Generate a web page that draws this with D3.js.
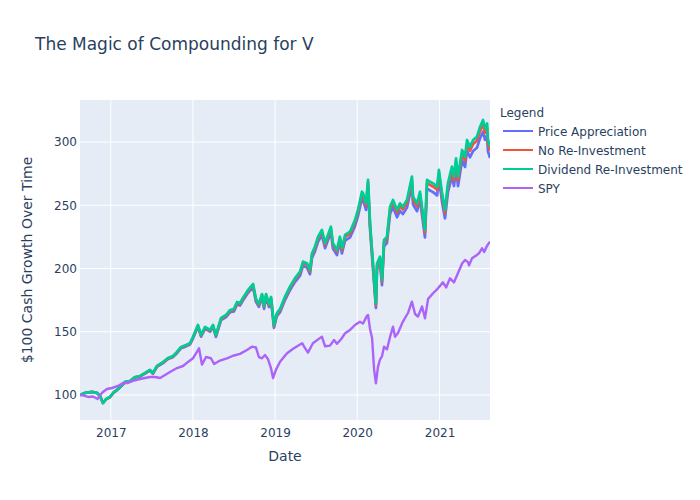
<!DOCTYPE html>
<html><head><meta charset="utf-8">
<script src="https://cdn.jsdelivr.net/npm/d3@7"></script>
<style>body{margin:0;background:#fff} text{font-family:"DejaVu Sans",verdana,arial,sans-serif}</style>
</head><body><svg id="c" width="700" height="500"></svg>
<script>
const vDates = ["2016-08-17","2016-09-08","2016-10-09","2016-11-01","2016-11-14","2016-11-27","2016-12-11","2016-12-28",
"2017-01-15","2017-01-28","2017-02-15","2017-03-05","2017-03-27","2017-04-18","2017-05-11","2017-06-02","2017-06-24","2017-07-07","2017-07-25","2017-08-21","2017-09-12","2017-10-04","2017-10-22","2017-11-09","2017-12-01","2017-12-19",
"2018-01-01","2018-01-23","2018-02-06","2018-02-24","2018-03-18","2018-03-31","2018-04-13","2018-05-06","2018-05-28","2018-06-15","2018-07-02","2018-07-16","2018-07-29","2018-08-11","2018-09-03","2018-09-25","2018-10-08","2018-10-21","2018-11-04","2018-11-13","2018-11-22","2018-12-05","2018-12-14","2018-12-27",
"2019-01-09","2019-01-23","2019-02-14","2019-03-08","2019-03-30","2019-04-22","2019-05-05","2019-05-23","2019-06-05","2019-06-14","2019-06-27","2019-07-11","2019-07-28","2019-08-11","2019-08-24","2019-09-06","2019-09-15","2019-10-03","2019-10-16","2019-10-25","2019-11-08","2019-11-30","2019-12-22",
"2020-01-04","2020-01-22","2020-01-27","2020-02-09","2020-02-18","2020-02-27","2020-03-11","2020-03-24","2020-03-29","2020-04-11","2020-04-20","2020-04-29","2020-05-12","2020-05-26","2020-06-08","2020-06-26","2020-07-09","2020-07-22","2020-08-09","2020-08-31","2020-09-05","2020-09-23","2020-10-06","2020-10-28","2020-11-06","2020-11-19","2020-12-03","2020-12-21","2020-12-29",
"2021-01-12","2021-01-25","2021-02-07","2021-02-25","2021-03-06","2021-03-15","2021-03-24","2021-04-11","2021-04-24","2021-05-03","2021-05-16","2021-05-30","2021-06-16","2021-06-30","2021-07-13","2021-07-22","2021-07-31","2021-08-04","2021-08-13"];

const dividendReInvestment = [100,101.6,102.4,101.6,99.2,93.7,96.8,98.4,
102.4,104,107,110.3,111,114.2,115,117.4,119.8,117.4,123,126,129.2,130.8,134,138,139.5,141,
145.8,155.3,147.4,153.8,151.4,155.3,147.4,160.9,163.2,167.2,168,173.5,172.7,176.7,183,187.7,175.9,171.9,179.8,170.4,179.8,171.9,177.5,155.3,
164.8,168,177.7,185.6,192.2,197.5,205.4,204.1,198.8,212,217.2,225.1,230.4,219.9,226.5,233,219.9,214.6,225.1,216,226.5,229.1,238.3,
246.2,260.7,259.4,251.5,270,235.7,204,172.5,204,209.3,191,222.5,225,248.9,254.2,246.2,251.5,248.9,254.2,272.6,256.8,251.5,260.7,230.4,270,268.6,267.3,264.7,277.9,
259.4,246.2,267.3,280.5,272.6,287.1,272.6,293.7,288.4,301.6,296.3,301.6,304.2,312.1,317.4,310.8,314.7,301.6,296.3];

const noReInvestment = [100,101.6,102.4,101.6,99.2,93.7,96.7,98.3,
102.3,103.9,106.9,110.2,110.9,114.0,114.8,117.2,119.6,117.2,122.7,125.7,128.9,130.5,133.6,137.6,139.1,140.6,
145.4,154.8,146.9,153.3,150.9,154.7,146.9,160.3,162.6,166.5,167.3,172.8,171.9,175.9,182.2,186.8,175.1,171.1,178.9,169.6,178.9,171.0,176.6,154.5,
163.9,167.1,176.7,184.6,191.1,196.3,204.2,202.9,197.6,210.7,215.8,223.7,228.9,218.5,225.0,231.4,218.4,213.1,223.5,214.5,224.9,227.4,236.5,
244.3,258.7,257.4,249.6,267.9,233.9,202.4,171.1,202.4,207.6,189.5,220.7,223.1,246.8,252.1,244.1,249.3,246.7,252.0,270.2,254.5,249.2,258.3,228.3,267.5,266.1,264.8,262.2,275.2,
256.9,243.8,264.7,277.7,269.9,284.2,269.8,290.7,285.4,298.5,293.2,298.4,301.0,308.8,314.0,307.4,311.3,298.3,293.1];

const priceAppreciation = [100,101.6,102.3,101.5,99.1,93.6,96.6,98.2,
102.1,103.7,106.7,109.9,110.6,113.7,114.5,116.8,119.2,116.8,122.3,125.2,128.4,129.9,133.0,137.0,138.4,139.9,
144.6,154.0,146.1,152.4,150.0,153.8,145.9,159.2,161.5,165.4,166.1,171.5,170.7,174.6,180.8,185.3,173.6,169.6,177.4,168.1,177.4,169.5,175.0,153.1,
162.4,165.5,175.0,182.8,189.2,194.3,202.0,200.7,195.5,208.4,213.5,221.2,226.3,216.0,222.4,228.7,215.8,210.6,220.8,211.9,222.1,224.6,233.5,
241.2,255.3,254.0,246.3,264.3,230.7,199.6,168.8,199.6,204.7,186.8,217.6,220.0,243.3,248.4,240.5,245.6,243.0,248.1,266.0,250.6,245.3,254.2,224.6,263.2,261.7,260.4,257.8,270.6,
252.5,239.6,260.1,272.9,265.2,279.2,265.1,285.5,280.3,293.1,287.9,292.9,295.4,303.0,308.1,301.6,305.3,292.6,287.4];

const spyDates = ["2016-08-17","2016-09-04","2016-09-22","2016-10-14","2016-11-03","2016-11-14","2016-11-27","2016-12-15",
"2017-01-06","2017-02-02","2017-02-24","2017-03-18","2017-04-09","2017-05-11","2017-06-02","2017-06-24","2017-07-16","2017-08-08","2017-08-30","2017-09-21","2017-10-22","2017-11-18","2017-12-10",
"2018-01-01","2018-01-28","2018-02-10","2018-02-28","2018-03-22","2018-04-05","2018-05-01","2018-06-01","2018-06-28","2018-07-29","2018-08-29","2018-09-20","2018-10-08","2018-10-21","2018-11-04","2018-11-17","2018-11-30","2018-12-14","2018-12-23",
"2019-01-05","2019-01-23","2019-02-23","2019-03-22","2019-05-01","2019-05-14","2019-05-27","2019-06-18","2019-07-28","2019-08-11","2019-09-02","2019-09-20","2019-10-03","2019-10-21","2019-11-08","2019-11-30","2019-12-22",
"2020-01-13","2020-01-27","2020-02-13","2020-02-18","2020-02-27","2020-03-07","2020-03-16","2020-03-24","2020-04-02","2020-04-11","2020-04-20","2020-04-29","2020-05-12","2020-05-26","2020-06-08","2020-06-17","2020-06-30","2020-07-22","2020-08-14","2020-08-31","2020-09-14","2020-09-27","2020-10-15","2020-10-28","2020-11-11","2020-12-03","2020-12-25",
"2021-01-16","2021-01-30","2021-02-16","2021-03-06","2021-03-20","2021-04-11","2021-04-24","2021-05-07","2021-05-12","2021-05-25","2021-06-16","2021-06-25","2021-07-09","2021-07-18","2021-07-31","2021-08-13"];

const spy = [100,99.5,98.4,98.8,96.8,99.8,102.4,104.7,
105.5,107.1,109.5,109.5,111.1,112.6,113.4,114.2,114.2,113.4,115.8,118.2,121.3,122.9,126.1,
129,136.9,124,130,129,124.5,127.2,129,131,132.5,135.6,138.2,137.5,130,129,131.6,128.5,121,113.4,
120,126.3,133,136.5,140.9,137,133.5,140.9,146.1,138.5,139,143.5,140.5,144,148.8,151.4,155.3,
157.9,156.5,162.5,163.2,152,145,120,109.2,122,128,130.5,138.2,136,146,154,146,149,158,165,173.8,164,161.9,170,160.6,176,180.4,184.3,
189,185,192.2,189,194.9,204,206.7,205,202.5,208,210.7,212,216,213,218,221.2];

const seriesNames = ["Price Appreciation","No Re-Investment","Dividend Re-Investment","SPY"];
const seriesColors = ["#636efa","#EF553B","#00cc96","#ab63fa"];
const yTicks = [100,150,200,250,300];
const xTickLabels = ["2017","2018","2019","2020","2021"];

const parse = d3.utcParse("%Y-%m-%d");
const svg = d3.select("#c");
const L = 80, R = 490, T = 100, B = 420;
const txt = "#2a3f5f";

const x = d3.scaleUtc().domain([parse(vDates[0]), parse(vDates[vDates.length-1])]).range([L, R]);
const y = d3.scaleLinear().domain([80.2, 333.2]).range([B, T]);

svg.append("rect").attr("x", L).attr("y", T).attr("width", R-L).attr("height", B-T).attr("fill", "#E5ECF6");

const xTickDates = xTickLabels.map(s => parse(s + "-01-01"));
svg.append("g").selectAll("line").data(xTickDates).join("line")
  .attr("x1", d => x(d)).attr("x2", d => x(d)).attr("y1", T).attr("y2", B)
  .attr("stroke", "#fff").attr("stroke-width", 1);
svg.append("g").selectAll("line").data(yTicks).join("line")
  .attr("x1", L).attr("x2", R).attr("y1", d => y(d)).attr("y2", d => y(d))
  .attr("stroke", "#fff").attr("stroke-width", 1);

const xAxis = svg.append("g").attr("transform", `translate(0,${B})`)
  .call(d3.axisBottom(x).tickValues(xTickDates).tickFormat(d3.utcFormat("%Y")).tickSize(0).tickPadding(8));
const yAxis = svg.append("g").attr("transform", `translate(${L},0)`)
  .call(d3.axisLeft(y).tickValues(yTicks).tickSize(0).tickPadding(3));
[xAxis, yAxis].forEach(g => {
  g.select(".domain").remove();
  g.selectAll("text").attr("fill", txt).style("font-size", "12px").style("font-family", '"DejaVu Sans", verdana, arial, sans-serif');
});

svg.append("clipPath").attr("id", "clip").append("rect")
  .attr("x", L).attr("y", T).attr("width", R-L).attr("height", B-T);

const vSeries = [priceAppreciation, noReInvestment, dividendReInvestment];
const lineG = svg.append("g").attr("clip-path", "url(#clip)");
const line = d3.line().x(d => x(d[0])).y(d => y(d[1]));
vSeries.forEach((vals, i) => {
  const pts = vDates.map((d, j) => [parse(d), vals[j]]);
  lineG.append("path").datum(pts).attr("d", line).attr("fill", "none")
    .attr("stroke", seriesColors[i]).attr("stroke-width", 2.7).attr("stroke-linejoin", "round");
});
const spyPts = spyDates.map((d, j) => [parse(d), spy[j]]);
lineG.append("path").datum(spyPts).attr("d", line).attr("fill", "none")
  .attr("stroke", seriesColors[3]).attr("stroke-width", 2.4).attr("stroke-linejoin", "round");

svg.append("text").attr("x", 35).attr("y", 50).attr("fill", txt).style("font-size", "17px")
  .text("The Magic of Compounding for V");
svg.append("text").attr("x", (L+R)/2).attr("y", 461).attr("text-anchor", "middle").attr("fill", txt)
  .style("font-size", "14px").text("Date");
svg.append("text").attr("transform", "translate(32,260) rotate(-90)").attr("text-anchor", "middle")
  .attr("fill", txt).style("font-size", "14px").text("$100 Cash Growth Over Time");

const leg = svg.append("g");
leg.append("text").attr("x", 500).attr("y", 117).attr("fill", txt).style("font-size", "12px").text("Legend");
seriesNames.forEach((n, i) => {
  const cy = 131 + i * 19;
  leg.append("line").attr("x1", 503).attr("x2", 533).attr("y1", cy).attr("y2", cy)
    .attr("stroke", seriesColors[i]).attr("stroke-width", 2);
  leg.append("text").attr("x", 538).attr("y", cy + 4.5).attr("fill", txt).style("font-size", "12px").text(n);
});
</script></body></html>
